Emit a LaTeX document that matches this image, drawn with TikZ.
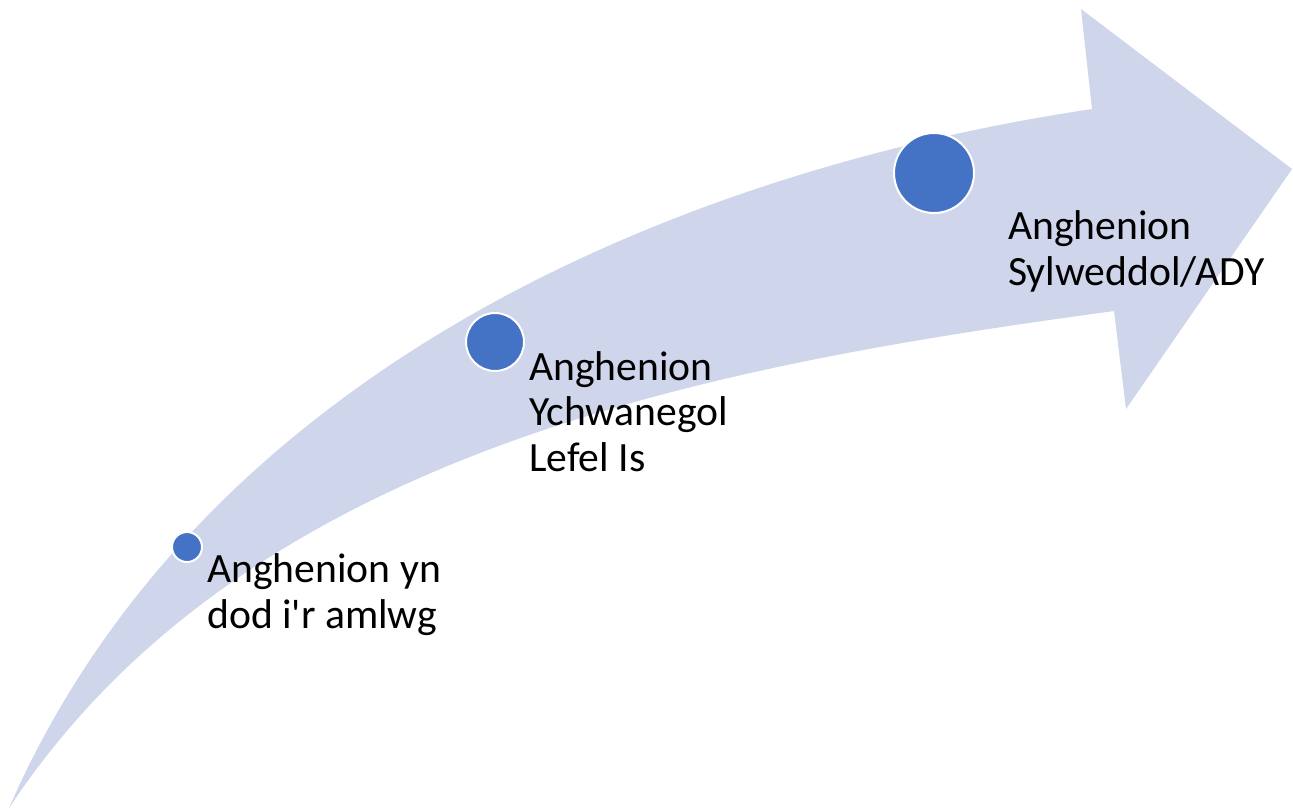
\documentclass[tikz,border=0pt]{standalone}
\usepackage{fontspec}
\setmainfont{Carlito}
\usetikzlibrary{positioning}
\definecolor{arrowblue}{HTML}{CFD5EA}
\definecolor{dotblue}{HTML}{4472C4}
\def\bigarrow{(9,808) .. controls (196,380) and (659,174) .. (1092,109) -- (1081,9) -- (1292,169) -- (1126,409) -- (1114,311) .. controls (717,365) and (247,448) .. cycle}

\begin{document}
\begin{tikzpicture}[x=0.02cm, y=-0.02cm,
    dot/.style={circle, fill=dotblue, draw=white, line width=0.04cm, inner sep=0pt},
    steplabel/.style={anchor=base west, align=left, inner sep=0pt, font=\fontsize{23.7}{25.8}\selectfont}]
        \useasboundingbox (0,0) rectangle (1293,809);
        \fill[arrowblue] \bigarrow;
        % the three stages
        \node[dot, minimum size=0.6cm] (c1) at (187,547) {};
        \node[dot, minimum size=1.16cm] (c2) at (495,342) {};
        \node[dot, minimum size=1.6cm] (c3) at (934,173) {};
        % labels (base = last line)
        \node[steplabel] (l1) at (207,628) {Anghenion yn\\dod i\textquotesingle r amlwg};
        \node[steplabel] (l2) at (529,471) {Anghenion\\Ychwanegol\\Lefel Is};
        \node[steplabel] (l3) at (1008,285) {Anghenion\\Sylweddol/ADY};
    \end{tikzpicture}
\end{document}
